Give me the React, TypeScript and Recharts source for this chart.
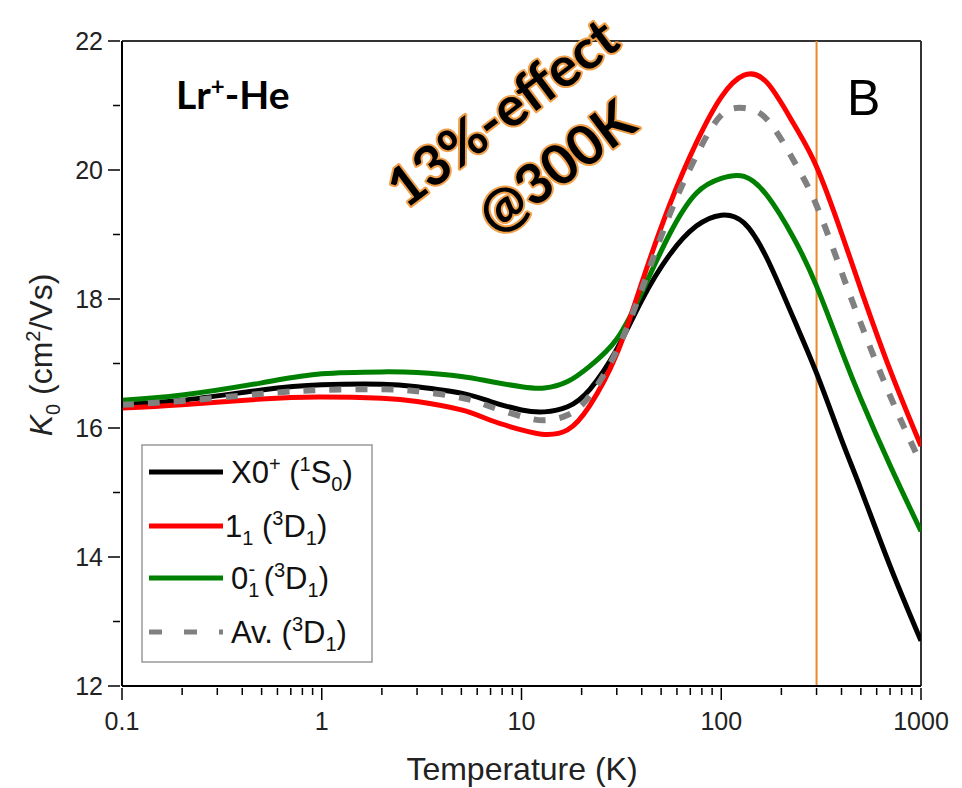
import React from 'react';
import { LineChart, Line, XAxis, YAxis, ReferenceLine } from 'recharts';

const temps = [0.1, 0.2, 0.5, 1, 2, 3, 5, 7, 10, 13, 17, 22, 30, 40, 55, 75, 100, 130, 170, 230, 300, 400, 500, 700, 1000];

// K0 (cm2/Vs) for each state
const x0Plus = [16.37, 16.43, 16.59, 16.67, 16.68, 16.64, 16.54, 16.41, 16.28, 16.25, 16.33, 16.6, 17.22, 17.98, 18.68, 19.13, 19.3, 19.18, 18.62, 17.7, 16.85, 15.82, 15.05, 13.86, 12.7];
const one1 = [16.31, 16.36, 16.45, 16.48, 16.46, 16.41, 16.28, 16.12, 15.97, 15.9, 15.97, 16.35, 17.15, 18.25, 19.45, 20.42, 21.13, 21.47, 21.35, 20.72, 20.05, 19.02, 18.15, 16.9, 15.72];
const zero1 = [16.43, 16.51, 16.7, 16.84, 16.87, 16.86, 16.8, 16.72, 16.64, 16.62, 16.72, 16.96, 17.38, 18.1, 19.0, 19.64, 19.87, 19.9, 19.6, 18.95, 18.2, 17.2, 16.45, 15.42, 14.4];
const average = [16.36, 16.42, 16.53, 16.59, 16.6, 16.57, 16.47, 16.33, 16.18, 16.12, 16.2, 16.5, 17.2, 18.15, 19.3, 20.22, 20.85, 20.96, 20.78, 20.15, 19.45, 18.42, 17.62, 16.5, 15.45];

const xTicks = [0.1, 0.2, 0.3, 0.4, 0.5, 0.6, 0.7, 0.8, 0.9, 1, 2, 3, 4, 5, 6, 7, 8, 9, 10, 20, 30, 40, 50, 60, 70, 80, 90, 100, 200, 300, 400, 500, 600, 700, 800, 900, 1000];
const xMajor = [0.1, 1, 10, 100, 1000];
const yTicks = [12, 13, 14, 15, 16, 17, 18, 19, 20, 21, 22];

const data = temps.map((T, i) => ({
  T,
  x0: x0Plus[i],
  one1: one1[i],
  zero1: zero1[i],
  av: average[i],
}));

const FONT = '"Liberation Sans", Arial, sans-serif';
const BOLD_FONT = "Lato, 'Open Sans', sans-serif";

const XTick = (props: any) => {
  const { x, y, payload } = props;
  const v = payload.value;
  const major = xMajor.some((m) => Math.abs(m - v) < 1e-9);
  return (
    <g>
      <line x1={x} x2={x} y1={y} y2={y + (major ? 12 : 7)} stroke="#000" strokeWidth={1.5} />
      {major && (
        <text x={x} y={y + 42} textAnchor="middle" fontSize={25} fontFamily={FONT} fill="#222">
          {v}
        </text>
      )}
    </g>
  );
};

const YTick = (props: any) => {
  const { x, y, payload } = props;
  const v = payload.value;
  const major = v % 2 === 0;
  return (
    <g>
      <line x1={x - (major ? 12 : 7)} x2={x} y1={y} y2={y} stroke="#000" strokeWidth={1.5} />
      {major && (
        <text x={x - 17} y={y + 9} textAnchor="end" fontSize={25} fontFamily={FONT} fill="#222">
          {v}
        </text>
      )}
    </g>
  );
};

const Sup = ({ children }: { children: React.ReactNode }) => (
  <>
    <tspan dy={-12} fontSize={20}>{children}</tspan>
    <tspan dy={12}>{'\u200b'}</tspan>
  </>
);
const Sub = ({ children }: { children: React.ReactNode }) => (
  <>
    <tspan dy={8} fontSize={20}>{children}</tspan>
    <tspan dy={-8}>{'\u200b'}</tspan>
  </>
);

const legendRows = [
  { y: 472, stroke: '#000000', dash: undefined as string | undefined },
  { y: 526, stroke: '#ff0000', dash: undefined },
  { y: 578, stroke: '#008000', dash: undefined },
  { y: 632, stroke: '#808080', dash: '13 22' },
];

const glow = { paintOrder: 'stroke' as const };

const Overlay = () => (
  <svg width={962} height={788} style={{ position: 'absolute', left: 0, top: 0, pointerEvents: 'none' }}>
    {/* axis titles */}
    <text x={522} y={780} textAnchor="middle" fontSize={32} fontFamily={FONT} fill="#222">
      Temperature (K)
    </text>
    <text transform="translate(52,355) rotate(-90)" textAnchor="middle" fontSize={32} fontFamily={FONT} fill="#222">
      <tspan fontStyle="italic">K</tspan>
      <Sub>0</Sub>
      <tspan> (cm</tspan>
      <Sup>2</Sup>
      <tspan>/Vs)</tspan>
    </text>

    {/* annotations */}
    <text x={176} y={109} fontSize={39} fontWeight="bold" fontFamily={BOLD_FONT} fill="#000">
      Lr<tspan dy={-14} fontSize={24}>+</tspan><tspan dy={14}>-He</tspan>
    </text>
    <text x={847} y={115} fontSize={50} fontFamily={FONT} fill="#000">B</text>
    <g transform="translate(502,112) rotate(-37)" fontFamily={BOLD_FONT} fontWeight="bold" fontSize={55}>
      <text x={0} y={20} textAnchor="middle" fill="#000" stroke="#f2a04a" strokeWidth={4} strokeLinejoin="round" style={glow}>
        13%-effect
      </text>
      <text x={10} y={96} textAnchor="middle" fill="#000" stroke="#f2a04a" strokeWidth={4} strokeLinejoin="round" style={glow}>
        @300K
      </text>
    </g>

    {/* legend */}
    <rect x={142} y={445} width={230} height={217} fill="#fff" stroke="#999" strokeWidth={1.5} />
    {legendRows.map((r) => (
      <line key={r.y} x1={149} x2={223} y1={r.y} y2={r.y} stroke={r.stroke} strokeWidth={5} strokeDasharray={r.dash} />
    ))}
    <g fontFamily={FONT} fontSize={31} fill="#111">
      <text x={231} y={483}>
        X0<Sup>+</Sup><tspan> (</tspan><Sup>1</Sup><tspan>S</tspan><Sub>0</Sub><tspan>)</tspan>
      </text>
      <text x={225} y={537}>
        1<Sub>1</Sub><tspan> (</tspan><Sup>3</Sup><tspan>D</tspan><Sub>1</Sub><tspan>)</tspan>
      </text>
      <text x={231} y={589}>
        0
        <tspan dy={8} fontSize={20}>1</tspan>
        <tspan dx={-11} dy={-21} fontSize={20}>-</tspan>
        <tspan dy={13}> (</tspan><Sup>3</Sup><tspan>D</tspan><Sub>1</Sub><tspan>)</tspan>
      </text>
      <text x={231} y={643}>
        Av. (<Sup>3</Sup><tspan>D</tspan><Sub>1</Sub><tspan>)</tspan>
      </text>
    </g>
  </svg>
);

export default function App() {
  return (
    <div style={{ position: 'absolute', left: 0, top: 0, width: 962, height: 788, background: '#fff' }}>
      <LineChart width={962} height={788} data={data} margin={{ top: 41, right: 41, left: 0, bottom: 0 }}>
        <XAxis
          dataKey="T"
          type="number"
          scale="log"
          domain={[0.1, 1000]}
          allowDataOverflow
          ticks={xTicks}
          interval={0}
          tickSize={0}
          tickLine={false}
          tick={(p: any) => <XTick {...p} />}
          axisLine={{ stroke: '#000', strokeWidth: 2 }}
          height={102}
        />
        <YAxis
          type="number"
          domain={[12, 22]}
          allowDataOverflow
          ticks={yTicks}
          interval={0}
          tickSize={0}
          tickLine={false}
          tick={(p: any) => <YTick {...p} />}
          axisLine={{ stroke: '#000', strokeWidth: 2 }}
          width={122}
        />
        <ReferenceLine y={22} stroke="#333" strokeWidth={2} />
        <ReferenceLine x={1000} stroke="#333" strokeWidth={2} />
        <ReferenceLine x={300} stroke="#e8892a" strokeWidth={2} />
        <Line type="natural" dataKey="x0" stroke="#000000" strokeWidth={5} dot={false} isAnimationActive={false} />
        <Line type="natural" dataKey="zero1" stroke="#008000" strokeWidth={5} dot={false} isAnimationActive={false} />
        <Line type="natural" dataKey="one1" stroke="#ff0000" strokeWidth={5} dot={false} isAnimationActive={false} />
        <Line type="natural" dataKey="av" stroke="#808080" strokeWidth={6} strokeDasharray="12 14" dot={false} isAnimationActive={false} />
      </LineChart>
      <Overlay />
    </div>
  );
}
